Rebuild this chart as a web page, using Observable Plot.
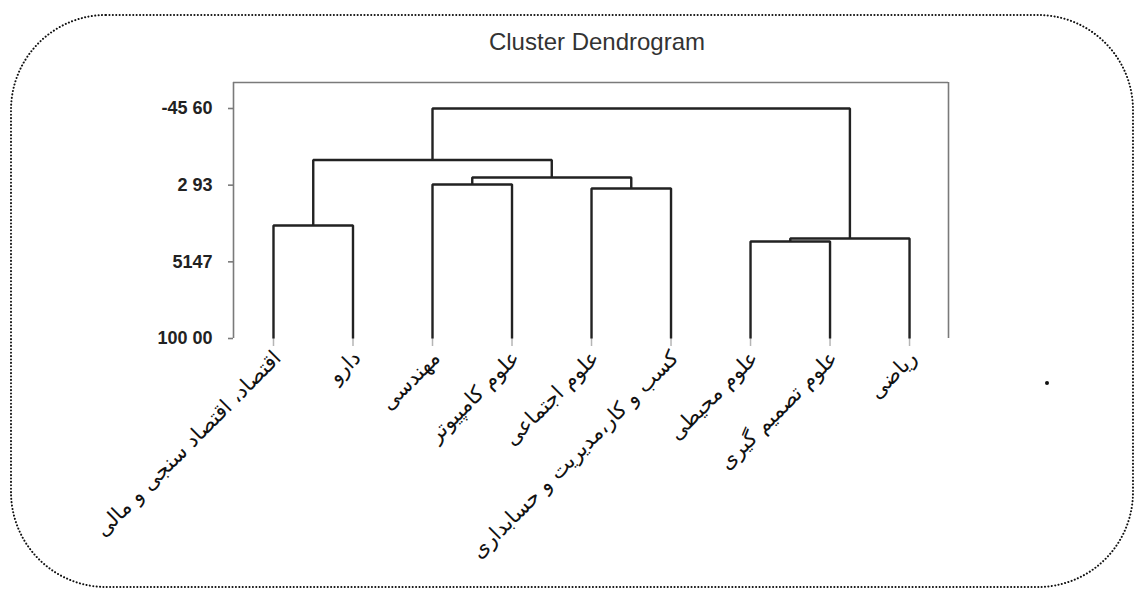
<!DOCTYPE html>
<html><head><meta charset="utf-8">
<script src="https://cdn.jsdelivr.net/npm/d3@7"></script>
<script src="https://cdn.jsdelivr.net/npm/@observablehq/plot@0.6"></script>
<style>
body{margin:0;background:#fff;}
#wrap{position:relative;width:1135px;height:590px;overflow:hidden;background:#fff;}
#border{position:absolute;left:0;top:0;}
#title{position:absolute;left:0;width:1194px;top:28px;text-align:center;font:24px "Liberation Sans",Arial,sans-serif;color:#333;}
#chart{position:absolute;left:0;top:0;}
#dot{position:absolute;left:1045px;top:381px;width:4px;height:4px;border-radius:2px;background:#111;}
</style></head><body>
<div id="wrap">
<svg id="border" width="1135" height="590"><rect x="11" y="15" width="1122" height="572" rx="95" ry="95" fill="none" stroke="#111" stroke-width="2" stroke-dasharray="0.1 3.3" stroke-linecap="round"/></svg>
<div id="chart"></div>
<div id="title">Cluster Dendrogram</div>
<div id="dot"></div>
</div>
<script>
// leaves in display order
const leaves = [
  "اقتصاد، اقتصاد سنجی و مالی",
  "دارو",
  "مهندسی",
  "علوم کامپیوتر",
  "علوم اجتماعی",
  "کسب و کار،مدیریت و حسابداری",
  "علوم محیطی",
  "علوم تصمیم گیری",
  "ریاضی"
];
// merges (R hclust style): negative = leaf number (1-based), positive = earlier merge number
const mergeLeft  = [-3, -5, 1, -1, -7, 5, 4, 7];
const mergeRight = [-4, -6, 2, -2, -8, -9, 3, 6];
const mergeHeight = [2.52, 5.05, -1.91, 28.47, 38.6, 36.7, -12.99, -45.6];
const leafHeight = 100.0;
const tickValues = [-45.60, 2.93, 51.47, 100.00];
const tickLabels = ["-45 60", "2 93", "5147", "100 00"];
const yTop = -62.06;

const nodes = [];
const pos = (ref) => ref < 0 ? {x: -ref - 1, h: leafHeight} : nodes[ref - 1];
const paths = [];
mergeLeft.forEach((l, i) => {
  const a = pos(l), b = pos(mergeRight[i]), h = mergeHeight[i];
  nodes.push({x: (a.x + b.x) / 2, h});
  paths.push({id: i, x: a.x, y: a.h}, {id: i, x: a.x, y: h}, {id: i, x: b.x, y: h}, {id: i, x: b.x, y: b.h});
});
const labelMap = new Map(tickValues.map((v, i) => [v, tickLabels[i]]));
const xlo = -0.503, xhi = 8.49;

const chart = Plot.plot({
  width: 1135, height: 590,
  marginLeft: 233, marginRight: 187, marginTop: 82, marginBottom: 252,
  x: {domain: [xlo, xhi]},
  y: {domain: [leafHeight, yTop]},
  style: {background: "transparent", overflow: "visible"},
  marks: [
    Plot.ruleY([yTop], {x1: xlo, x2: xhi, stroke: "#7a7a7a", strokeWidth: 1.6}),
    Plot.ruleX([xlo, xhi], {y1: leafHeight, y2: yTop, stroke: "#7a7a7a", strokeWidth: 1.6}),
    Plot.axisY({ticks: tickValues, tickFormat: d => labelMap.get(d), tickSize: 5, tickPadding: 16,
      stroke: "#7a7a7a", strokeWidth: 1.6, fill: "#222", fontSize: 18, fontWeight: 600,
      fontFamily: "Liberation Sans, Arial, sans-serif", label: null}),
    Plot.axisX({ticks: leaves.map((d, i) => i), tickFormat: () => "", tickSize: 8, stroke: "#b5b5b5", strokeWidth: 1.5, label: null}),
    Plot.line(paths, {x: "x", y: "y", z: "id", stroke: "#222", strokeWidth: 2.4, strokeLinejoin: "miter", strokeLinecap: "butt"}),
    Plot.text(leaves, {x: (d, i) => i, y: () => leafHeight, text: d => d, rotate: -45, textAnchor: "end",
      dx: 4, dy: 16, fontSize: 21, fill: "#111", fontFamily: "DejaVu Sans, Noto Sans, sans-serif"})
  ]
});
document.getElementById("chart").appendChild(chart);
</script>
</body></html>
